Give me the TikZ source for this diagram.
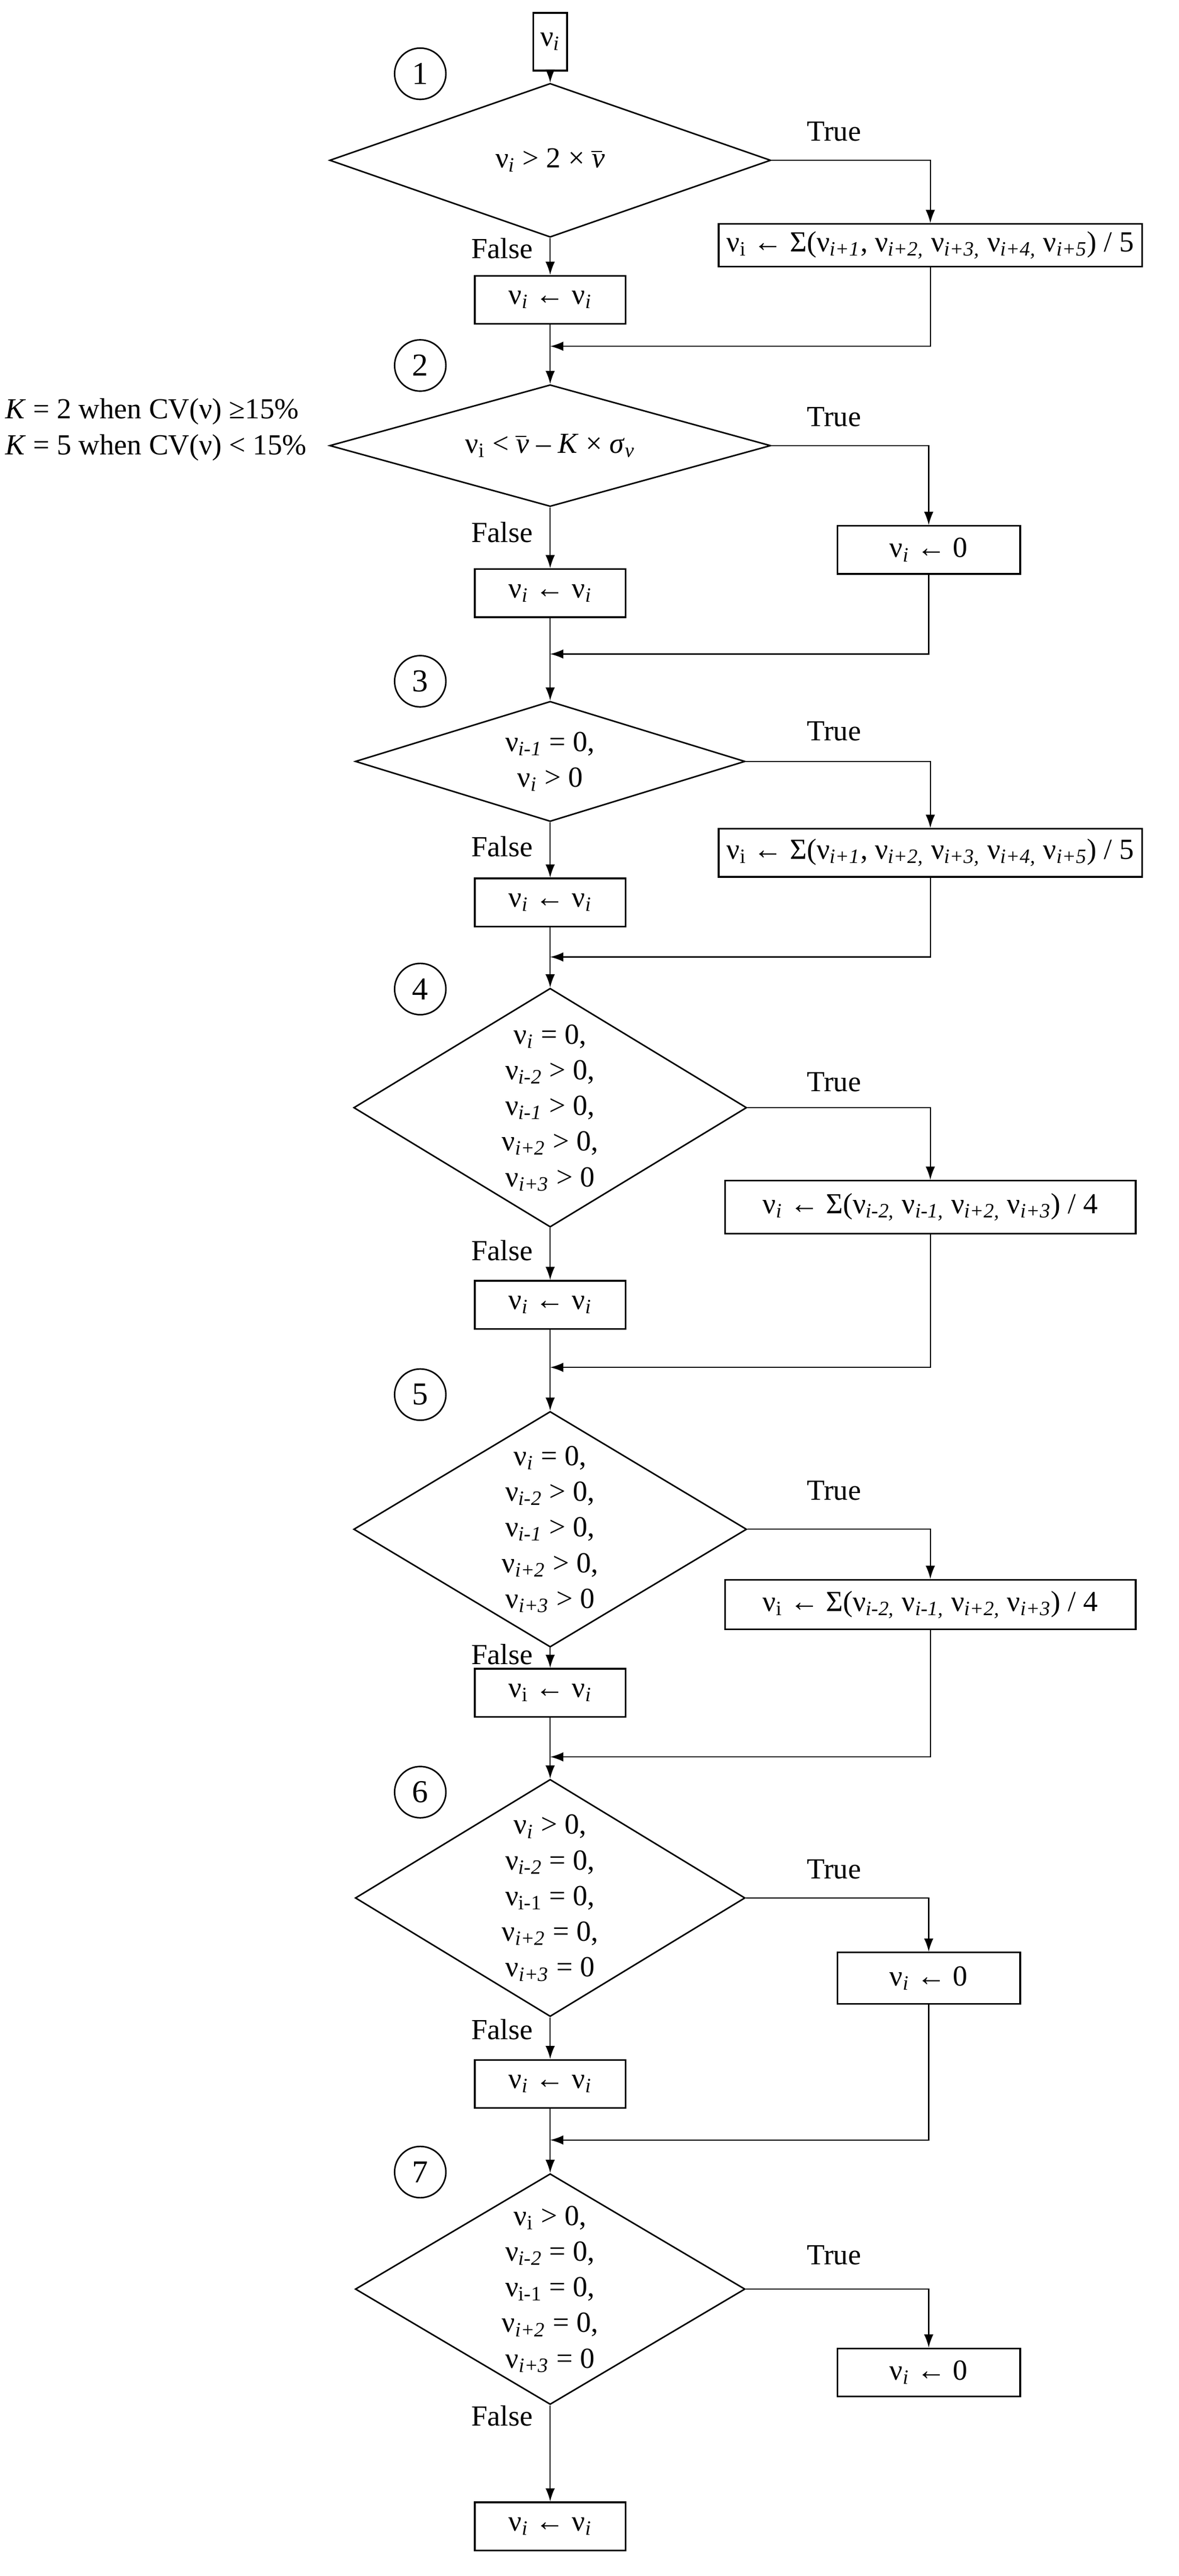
\documentclass[tikz,border=0pt]{standalone}
\usepackage{fontspec}
\setmainfont{Liberation Serif}
\usetikzlibrary{shapes.geometric,arrows.meta}
\newcommand\vsub[1]{ν\textsubscript{\textit{#1}}}
\newcommand\vsubr[1]{ν\textsubscript{#1}}
\newcommand\vbar{\textit{ν}\kern-0.47em\raisebox{0.55em}{\rule{0.38em}{0.5pt}}\kern0.09em}
\begin{document}
\begin{tikzpicture}[x=0.03cm,y=-0.03cm,
  every node/.style={font=\fontsize{15.5pt}{19pt}\selectfont},
  box/.style={draw,line width=0.9pt,inner sep=0pt,minimum height=0.9cm},
  fbox/.style={box,minimum width=2.82cm},
  dia/.style={draw,line width=0.8pt,diamond,inner sep=0pt},
  txt/.style={align=center,inner sep=0pt},
  num/.style={draw,circle,line width=0.8pt,minimum size=0.96cm,inner sep=0pt,font=\fontsize{17pt}{19pt}\selectfont},
  lbl/.style={inner sep=1pt},
  arr/.style={-{Latex[length=7pt,width=5pt]},line width=0.6pt},
  ln/.style={line width=0.6pt}]
\useasboundingbox (0,0) rectangle (735,1607);
% input
\node[box,minimum width=0.63cm,minimum height=1.08cm] (in) at (343,26) {\vsub{i}};
% 1
\node[num] (n1) at (262,46) {1};
\node[dia,minimum width=8.25cm,minimum height=2.88cm] (d1) at (343,100) {};
\node[txt] (t1) at (d1) {\vsub{i} > 2 × \vbar};
\node[box,minimum width=7.92cm,minimum height=0.8cm] (b1) at (580,153) {\vsubr{i} ← Σ(\vsub{i+1}, \vsub{i+2,} \vsub{i+3,} \vsub{i+4,} \vsub{i+5}) / 5};
\node[fbox] (f1) at (343,187) {\vsub{i} ← \vsub{i}};
\node[lbl] (tr1) at (520,82) {True};
\node[lbl] (fa1) at (313,155) {False};
\coordinate (m1) at (343,216);
\draw[arr] (in) -- (d1.north);
\draw[arr] (d1.east) -| (b1.north);
\draw[arr] (d1.south) -- (f1.north);
\draw[arr] (b1.south) |- (m1);
% 2
\node[num] (n2) at (262,228) {2};
\node[dia,minimum width=8.25cm,minimum height=2.28cm] (d2) at (343,278) {};
\node[txt] (t2) at (d2) {\vsubr{i} < \vbar\ – \textit{K} × \textit{σ}\textsubscript{\textit{ν}}};
\node[align=left,anchor=west,inner sep=0pt] (k) at (3,268) {\textit{K} = 2 when CV(ν) ≥15\%\\\textit{K} = 5 when CV(ν) < 15\%};
\node[box,minimum width=3.42cm] (b2) at (579,343) {\vsub{i} ← 0};
\node[fbox] (f2) at (343,370) {\vsub{i} ← \vsub{i}};
\node[lbl] (tr2) at (520,260) {True};
\node[lbl] (fa2) at (313,332) {False};
\coordinate (m2) at (343,408);
\draw[arr] (f1) -- (d2.north);
\draw[arr] (d2.east) -| (b2.north);
\draw[arr] (d2.south) -- (f2.north);
\draw[arr] (b2.south) |- (m2);
% 3
\node[num] (n3) at (262,425) {3};
\node[dia,minimum width=7.29cm,minimum height=2.25cm] (d3) at (343,475) {};
\node[txt] (t3) at (d3) {\vsub{i-1} = 0,\\\vsub{i} > 0};
\node[box,minimum width=7.92cm] (b3) at (580,532) {\vsubr{i} ← Σ(\vsub{i+1}, \vsub{i+2,} \vsub{i+3,} \vsub{i+4,} \vsub{i+5}) / 5};
\node[fbox] (f3) at (343,563) {\vsub{i} ← \vsub{i}};
\node[lbl] (tr3) at (520,456) {True};
\node[lbl] (fa3) at (313,528) {False};
\coordinate (m3) at (343,597);
\draw[arr] (f2) -- (d3.north);
\draw[arr] (d3.east) -| (b3.north);
\draw[arr] (d3.south) -- (f3.north);
\draw[arr] (b3.south) |- (m3);
% 4
\node[num] (n4) at (262,617) {4};
\node[dia,minimum width=7.35cm,minimum height=4.47cm] (d4) at (343,691) {};
\node[txt] (t4) at (d4) {\vsub{i} = 0,\\\vsub{i-2} > 0,\\\vsub{i-1} > 0,\\\vsub{i+2} > 0,\\\vsub{i+3} > 0};
\node[box,minimum width=7.68cm,minimum height=0.99cm] (b4) at (580,753) {\vsub{i} ← Σ(\vsub{i-2,} \vsub{i-1,} \vsub{i+2,} \vsub{i+3}) / 4};
\node[fbox] (f4) at (343,814) {\vsub{i} ← \vsub{i}};
\node[lbl] (tr4) at (520,675) {True};
\node[lbl] (fa4) at (313,780) {False};
\coordinate (m4) at (343,853);
\draw[arr] (f3) -- (d4.north);
\draw[arr] (d4.east) -| (b4.north);
\draw[arr] (d4.south) -- (f4.north);
\draw[arr] (b4.south) |- (m4);
% 5
\node[num] (n5) at (262,870) {5};
\node[dia,minimum width=7.35cm,minimum height=4.41cm] (d5) at (343,954) {};
\node[txt] (t5) at (d5) {\vsub{i} = 0,\\\vsub{i-2} > 0,\\\vsub{i-1} > 0,\\\vsub{i+2} > 0,\\\vsub{i+3} > 0};
\node[box,minimum width=7.68cm,minimum height=0.93cm] (b5) at (580,1001) {\vsubr{i} ← Σ(\vsub{i-2,} \vsub{i-1,} \vsub{i+2,} \vsub{i+3}) / 4};
\node[fbox] (f5) at (343,1056) {\vsubr{i} ← \vsub{i}};
\node[lbl] (tr5) at (520,930) {True};
\node[lbl] (fa5) at (313,1032) {False};
\coordinate (m5) at (343,1096);
\draw[arr] (f4) -- (d5.north);
\draw[arr] (d5.east) -| (b5.north);
\draw[arr] (d5.south) -- (f5.north);
\draw[arr] (b5.south) |- (m5);
% 6
\node[num] (n6) at (262,1118) {6};
\node[dia,minimum width=7.29cm,minimum height=4.44cm] (d6) at (343,1184) {};
\node[txt] (t6) at (d6) {\vsub{i} > 0,\\\vsub{i-2} = 0,\\\vsubr{i-1} = 0,\\\vsub{i+2} = 0,\\\vsub{i+3} = 0};
\node[box,minimum width=3.42cm,minimum height=0.96cm] (b6) at (579,1234) {\vsub{i} ← 0};
\node[fbox] (f6) at (343,1300) {\vsub{i} ← \vsub{i}};
\node[lbl] (tr6) at (520,1166) {True};
\node[lbl] (fa6) at (313,1266) {False};
\coordinate (m6) at (343,1335);
\draw[arr] (f5) -- (d6.north);
\draw[arr] (d6.east) -| (b6.north);
\draw[arr] (d6.south) -- (f6.north);
\draw[arr] (b6.south) |- (m6);
% 7
\node[num] (n7) at (262,1355) {7};
\node[dia,minimum width=7.29cm,minimum height=4.32cm] (d7) at (343,1428) {};
\node[txt] (t7) at (d7) {\vsubr{i} > 0,\\\vsub{i-2} = 0,\\\vsubr{i-1} = 0,\\\vsub{i+2} = 0,\\\vsub{i+3} = 0};
\node[box,minimum width=3.42cm] (b7) at (579,1480) {\vsub{i} ← 0};
\node[fbox] (f7) at (343,1576) {\vsub{i} ← \vsub{i}};
\node[lbl] (tr7) at (520,1407) {True};
\node[lbl] (fa7) at (313,1507) {False};
\draw[arr] (f6) -- (d7.north);
\draw[arr] (d7.east) -| (b7.north);
\draw[arr] (d7.south) -- (f7.north);
\end{tikzpicture}
\end{document}
